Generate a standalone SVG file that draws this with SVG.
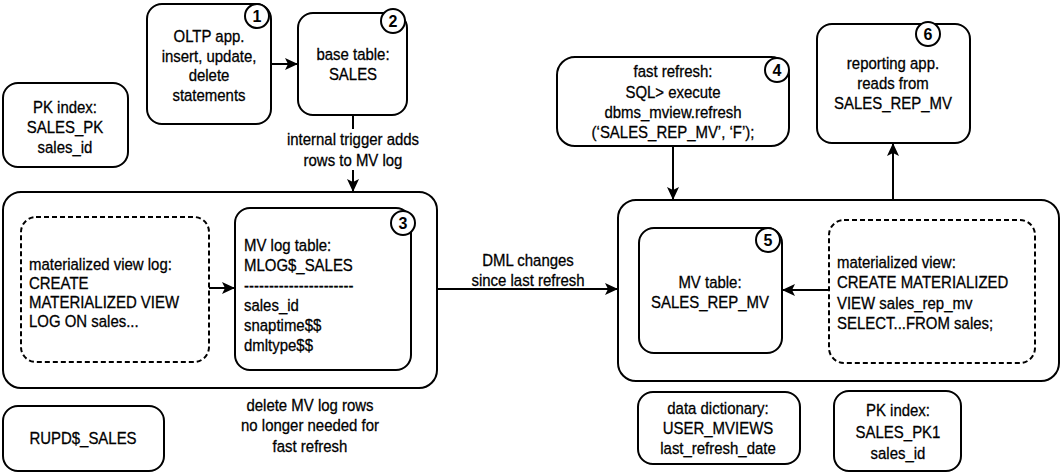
<svg xmlns="http://www.w3.org/2000/svg" width="1061" height="472" viewBox="0 0 1061 472">
<defs>
<style>
text{font-family:"Liberation Sans",Arial,sans-serif;font-size:17px;fill:#000;stroke:#000;stroke-width:0.3;dominant-baseline:central;transform-box:fill-box;transform-origin:center;transform:scaleX(0.88)}
.c{text-anchor:middle}
.l{transform-origin:left center}
.box{fill:#fff;stroke:#000;stroke-width:2}
.dash{fill:#fff;stroke:#000;stroke-width:2;stroke-dasharray:5 3}
.badge{fill:#fff;stroke:#000;stroke-width:2}
text.bn{font-weight:bold;text-anchor:middle;font-size:16px;stroke-width:0;transform:none}
.conn{fill:none;stroke:#000;stroke-width:2}
</style>
<marker id="ah" markerUnits="userSpaceOnUse" markerWidth="14" markerHeight="12" refX="13" refY="6" orient="auto">
<path d="M0,0 L13,6 L0,12 L3,6 Z" fill="#000"/>
</marker>
</defs>
<rect width="1061" height="472" fill="#fff"/>

<g id="container-left">
<rect class="box" x="3" y="192" width="434" height="196" rx="18"/>
</g>
<g id="container-right">
<rect class="box" x="618" y="200" width="441" height="181" rx="18"/>
</g>

<g id="pk-index">
<rect class="box" x="3" y="83" width="125" height="84" rx="15"/>
<text class="c" x="65" y="107">PK index:</text>
<text class="c" x="65" y="127">SALES_PK</text>
<text class="c" x="65" y="147">sales_id</text>
</g>

<g id="oltp">
<rect class="box" x="147" y="4" width="124" height="120" rx="15"/>
<text class="c" x="209" y="36">OLTP app.</text>
<text class="c" x="209" y="56">insert, update,</text>
<text class="c" x="209" y="75">delete</text>
<text class="c" x="209" y="95">statements</text>
<circle class="badge" cx="257" cy="16" r="12"/>
<text class="bn" x="257" y="16">1</text>
</g>

<g id="base-table">
<rect class="box" x="298" y="13" width="109" height="102" rx="15"/>
<text class="c" x="353" y="54">base table:</text>
<text class="c" x="353" y="74">SALES</text>
<circle class="badge" cx="393" cy="21" r="12"/>
<text class="bn" x="393" y="21">2</text>
</g>

<g id="mv-log-def">
<rect class="dash" x="21" y="217" width="188" height="145" rx="15"/>
<text class="l" x="29" y="264">materialized view log:</text>
<text class="l" x="29" y="283">CREATE</text>
<text class="l" x="29" y="302">MATERIALIZED VIEW</text>
<text class="l" x="29" y="321">LOG ON sales...</text>
</g>

<g id="mv-log-table">
<rect class="box" x="235" y="208" width="176" height="162" rx="15"/>
<text class="l" x="244" y="245">MV log table:</text>
<text class="l" x="244" y="265">MLOG$_SALES</text>
<text class="l" x="244" y="285">----------------------</text>
<text class="l" x="244" y="305">sales_id</text>
<text class="l" x="244" y="325">snaptime$$</text>
<text class="l" x="244" y="345">dmltype$$</text>
<circle class="badge" cx="403" cy="223" r="12"/>
<text class="bn" x="403" y="223">3</text>
</g>

<g id="rupd">
<rect class="box" x="3" y="406" width="161" height="65" rx="15"/>
<text class="c" x="83" y="438">RUPD$_SALES</text>
</g>

<g id="fast-refresh">
<rect class="box" x="557" y="57" width="232" height="89" rx="18"/>
<text class="c" x="673" y="71">fast refresh:</text>
<text class="c" x="673" y="92">SQL&gt; execute</text>
<text class="c" x="673" y="112">dbms_mview.refresh</text>
<text class="c" x="673" y="132">(‘SALES_REP_MV’, ‘F’);</text>
<circle class="badge" cx="777" cy="70" r="12"/>
<text class="bn" x="777" y="70">4</text>
</g>

<g id="reporting-app">
<rect class="box" x="817" y="24" width="153" height="119" rx="15"/>
<text class="c" x="893" y="63">reporting app.</text>
<text class="c" x="893" y="83">reads from</text>
<text class="c" x="893" y="103">SALES_REP_MV</text>
<circle class="badge" cx="928" cy="34" r="12"/>
<text class="bn" x="928" y="34">6</text>
</g>

<g id="mv-table">
<rect class="box" x="639" y="228" width="143" height="125" rx="15"/>
<text class="c" x="710" y="282">MV table:</text>
<text class="c" x="710" y="302">SALES_REP_MV</text>
<circle class="badge" cx="768" cy="240" r="12"/>
<text class="bn" x="768" y="240">5</text>
</g>

<g id="mv-def">
<rect class="dash" x="829" y="220" width="206" height="143" rx="15"/>
<text class="l" x="837" y="262">materialized view:</text>
<text class="l" x="837" y="282">CREATE MATERIALIZED</text>
<text class="l" x="837" y="303">VIEW sales_rep_mv</text>
<text class="l" x="837" y="323">SELECT...FROM sales;</text>
</g>

<g id="data-dictionary">
<rect class="box" x="638" y="392" width="162" height="72" rx="15"/>
<text class="c" x="718" y="408">data dictionary:</text>
<text class="c" x="718" y="428">USER_MVIEWS</text>
<text class="c" x="718" y="448">last_refresh_date</text>
</g>

<g id="pk-index-2">
<rect class="box" x="834" y="391" width="127" height="80" rx="15"/>
<text class="c" x="898" y="410">PK index:</text>
<text class="c" x="898" y="432">SALES_PK1</text>
<text class="c" x="898" y="453">sales_id</text>
</g>

<g id="connectors">
<path class="conn" d="M271,64 H298" marker-end="url(#ah)"/>
<path class="conn" d="M353,115 V192" marker-end="url(#ah)"/>
<rect x="280" y="129" width="146" height="41" fill="#fff"/>
<text class="c" x="353" y="139">internal trigger adds</text>
<text class="c" x="353" y="160">rows to MV log</text>
<path class="conn" d="M209,288 H235" marker-end="url(#ah)"/>
<path class="conn" d="M437,289 H618" marker-end="url(#ah)"/>
<text class="c" x="528" y="260">DML changes</text>
<text class="c" x="528" y="280">since last refresh</text>
<path class="conn" d="M673,146 V200" marker-end="url(#ah)"/>
<path class="conn" d="M893,200 V143" marker-end="url(#ah)"/>
<path class="conn" d="M829,290 H782" marker-end="url(#ah)"/>
<text class="c" x="310" y="405">delete MV log rows</text>
<text class="c" x="310" y="425">no longer needed for</text>
<text class="c" x="310" y="446">fast refresh</text>
</g>
</svg>
